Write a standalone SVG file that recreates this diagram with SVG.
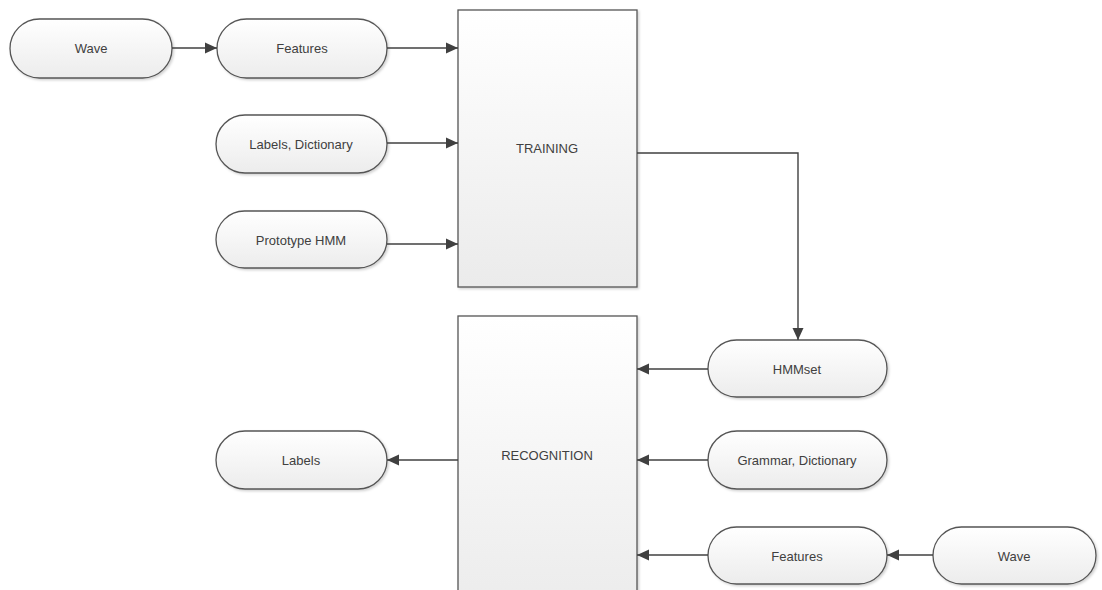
<svg xmlns="http://www.w3.org/2000/svg" width="1102" height="590" viewBox="0 0 1102 590">
<style>
.node{fill:url(#g);stroke:#555555;stroke-width:1.3;filter:url(#sh)}
.box{fill:url(#gb);stroke:#555555;stroke-width:1.3;filter:url(#sh)}
.t{font-family:"Liberation Sans",Arial,sans-serif;font-size:13px;fill:#404040;text-anchor:middle;dominant-baseline:central}
.c{fill:none;stroke:#404040;stroke-width:1.4;marker-end:url(#ah)}
</style>
<defs>
<linearGradient id="g" x1="0" y1="0" x2="0" y2="1"><stop offset="0" stop-color="#ffffff"/><stop offset="1" stop-color="#ececec"/></linearGradient>
<linearGradient id="gb" x1="0" y1="0" x2="0" y2="1"><stop offset="0" stop-color="#ffffff"/><stop offset="1" stop-color="#ebebeb"/></linearGradient>
<filter id="sh" x="-10%" y="-10%" width="130%" height="130%"><feDropShadow dx="1.5" dy="1.5" stdDeviation="1.2" flood-color="#000" flood-opacity="0.18"/></filter>
<marker id="ah" markerUnits="userSpaceOnUse" markerWidth="13" markerHeight="12" refX="12" refY="6" orient="auto"><path d="M0,0.5 L12,6 L0,11.5 z" fill="#404040"/></marker>
</defs>
<g id="training"><rect class="box" x="458" y="10" width="179" height="277"/><text class="t" x="547" y="148">TRAINING</text></g>
<g id="recognition"><rect class="box" x="458" y="316" width="179" height="300"/><text class="t" x="547" y="455">RECOGNITION</text></g>
<g id="wave1"><rect class="node" x="10" y="19" width="162" height="59" rx="29.5"/><text class="t" x="91" y="48">Wave</text></g>
<g id="features1"><rect class="node" x="217" y="19" width="170" height="59" rx="29.5"/><text class="t" x="302" y="48">Features</text></g>
<g id="labelsdict"><rect class="node" x="216" y="115" width="171" height="58" rx="29"/><text class="t" x="301" y="144">Labels, Dictionary</text></g>
<g id="proto"><rect class="node" x="216" y="211" width="171" height="57" rx="28.5"/><text class="t" x="301" y="240">Prototype HMM</text></g>
<g id="hmmset"><rect class="node" x="708" y="340" width="179" height="57" rx="28.5"/><text class="t" x="797" y="369">HMMset</text></g>
<g id="grammar"><rect class="node" x="708" y="431" width="179" height="58" rx="29"/><text class="t" x="797" y="460">Grammar, Dictionary</text></g>
<g id="features2"><rect class="node" x="708" y="527" width="179" height="57" rx="28.5"/><text class="t" x="797" y="556">Features</text></g>
<g id="wave2"><rect class="node" x="933" y="527" width="163" height="57" rx="28.5"/><text class="t" x="1014" y="556">Wave</text></g>
<g id="labels"><rect class="node" x="216" y="431" width="171" height="58" rx="29"/><text class="t" x="301" y="460">Labels</text></g>
<g id="connectors">
<path class="c" d="M172,48 H217"/>
<path class="c" d="M387,48 H458"/>
<path class="c" d="M387,143 H458"/>
<path class="c" d="M387,244 H458"/>
<path class="c" d="M637,153 H798 V340"/>
<path class="c" d="M708,369 H637"/>
<path class="c" d="M708,460 H637"/>
<path class="c" d="M708,555 H637"/>
<path class="c" d="M933,555 H887"/>
<path class="c" d="M458,460 H387"/>
</g>
</svg>
